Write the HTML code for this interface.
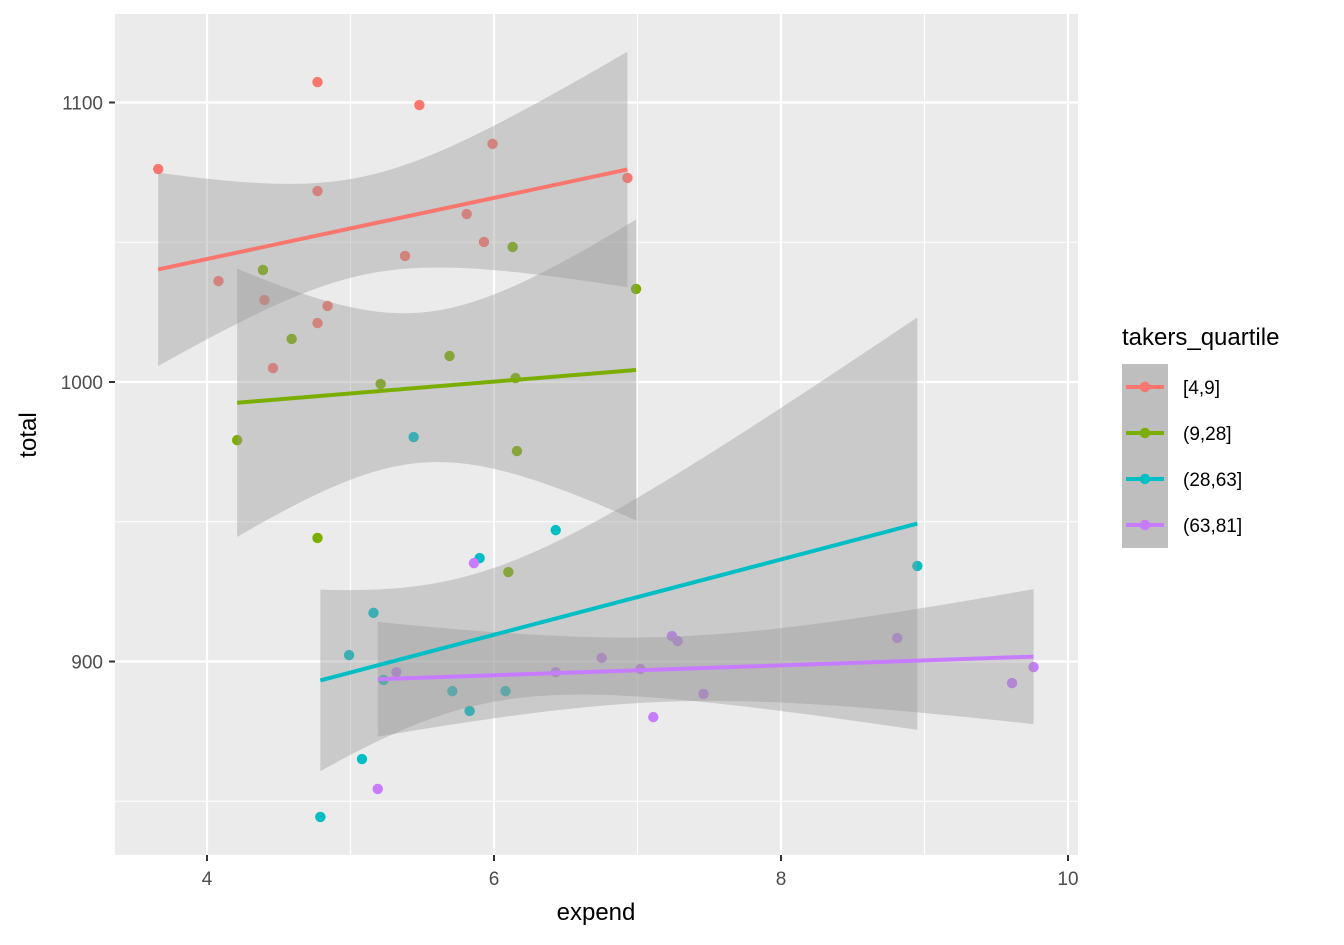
<!DOCTYPE html>
<html><head><meta charset="utf-8"><style>
body{margin:0;background:#fff;font-family:"Liberation Sans",Arial,sans-serif}
</style></head><body>
<svg id="chart" width="1344" height="940" xmlns="http://www.w3.org/2000/svg">
<rect x="0" y="0" width="1344" height="940" fill="#fff"/>
<rect x="115" y="14" width="963" height="841" fill="#EBEBEB"/>
<g id="grid"></g>
<g id="points"></g>
<g id="bands"></g>
<g id="lines"></g>
<g id="axes" font-size="19" fill="#4D4D4D"></g>
<text x="596" y="920" font-size="24" text-anchor="middle" fill="#000">expend</text>
<text x="36" y="435" font-size="24" text-anchor="middle" fill="#000" transform="rotate(-90 36 435)">total</text>
<g id="legend">
<text x="1122" y="345" font-size="24" fill="#000">takers_quartile</text>
</g>
</svg>
<script>
const ns="http://www.w3.org/2000/svg";
const groups=["[4,9]","(9,28]","(28,63]","(63,81]"];
const colors=["#F8766D","#7CAE00","#00BFC4","#C77CFF"];
const tvals=[2.179,2.262,2.228,2.201];
const redX=[3.66,4.77,5.48,5.99,4.77,5.81,5.93,5.38,4.08,4.40,4.84,4.77,4.46,6.93];
const redY=[1076.2,1107.3,1099.1,1085.2,1068.3,1060.1,1050.1,1045.1,1036.1,1029.3,1027.2,1021.1,1005.0,1073.0];
const greenX=[4.39,6.13,6.99,4.59,5.69,5.21,6.15,4.21,6.16,4.77,6.10];
const greenY=[1040.1,1048.3,1033.3,1015.4,1009.3,999.3,1001.4,979.2,975.3,944.2,932.0];
const tealX=[5.44,6.43,5.90,8.95,5.16,4.99,5.23,5.71,6.08,5.83,5.08,4.79];
const tealY=[980.3,947.0,937.0,934.2,917.4,902.3,893.4,889.4,889.4,882.3,865.1,844.4];
const purpleX=[5.86,7.24,7.28,6.75,8.81,5.32,6.43,7.02,7.46,9.61,9.76,7.11,5.19];
const purpleY=[935.2,909.1,907.3,901.3,908.4,896.2,896.2,897.3,888.4,892.3,898.0,880.1,854.4];
const xTicks=[4,6,8,10];
const yTicks=[900,1000,1100];
const xMinor=[5,7,9];
const yMinor=[850,950,1050];
const sx=v=>207+(v-4)*143.5;
const sy=v=>382-(v-1000)*2.795;
const series=[[redX,redY],[greenX,greenY],[tealX,tealY],[purpleX,purpleY]];
function mk(tag,attrs,parent){const e=document.createElementNS(ns,tag);for(const k in attrs)e.setAttribute(k,attrs[k]);document.getElementById(parent).appendChild(e);return e;}
xMinor.forEach(v=>{const l=mk('line',{x1:sx(v),x2:sx(v),y1:14,y2:855,stroke:'#fff','stroke-width':1.1},'grid');

});
yMinor.forEach(v=>{const l=mk('line',{x1:115,x2:1078,y1:sy(v),y2:sy(v),stroke:'#fff','stroke-width':1.1},'grid');

});
xTicks.forEach(v=>{const l=mk('line',{x1:sx(v),x2:sx(v),y1:14,y2:855,stroke:'#fff','stroke-width':2.2},'grid');


mk('line',{x1:sx(v),x2:sx(v),y1:855,y2:861,stroke:'#333','stroke-width':2},'axes');
const t=mk('text',{x:sx(v),y:885,'text-anchor':'middle'},'axes');t.textContent=v;

});
yTicks.forEach(v=>{const l=mk('line',{x1:115,x2:1078,y1:sy(v),y2:sy(v),stroke:'#fff','stroke-width':2.2},'grid');


mk('line',{x1:109,x2:115,y1:sy(v),y2:sy(v),stroke:'#333','stroke-width':2},'axes');
const t=mk('text',{x:103,y:sy(v)+7,'text-anchor':'end'},'axes');t.textContent=v;

});
series.forEach(([X,Y],g)=>{
 const n=X.length,mx=X.reduce((a,b)=>a+b)/n,my=Y.reduce((a,b)=>a+b)/n;
 let sxx=0,sxy=0;X.forEach((x,i)=>{sxx+=(x-mx)**2;sxy+=(x-mx)*(Y[i]-my);});
 const b=sxy/sxx,a=my-b*mx;
 let sse=0;X.forEach((x,i)=>{sse+=(Y[i]-a-b*x)**2;});
 const s=Math.sqrt(sse/(n-2));
 const lo=Math.min(...X),hi=Math.max(...X);
 const up=[],dn=[];
 for(let k=0;k<=80;k++){const x=lo+(hi-lo)*k/80,f=a+b*x,se=s*Math.sqrt(1/n+(x-mx)**2/sxx);
  up.push(sx(x)+','+sy(f+tvals[g]*se));dn.unshift(sx(x)+','+sy(f-tvals[g]*se));}
 const band=mk('polygon',{points:up.concat(dn).join(' '),fill:'#999','fill-opacity':0.4},'bands');
 
 
 const ln=mk('line',{x1:sx(lo),y1:sy(a+b*lo),x2:sx(hi),y2:sy(a+b*hi),stroke:colors[g],'stroke-width':4},'lines');
 
 
 X.forEach((x,i)=>{const c=mk('circle',{cx:sx(x),cy:sy(Y[i]),r:5.2,fill:colors[g]},'points');
  
  });
 const ky=387+g*46;
 const bg=mk('rect',{x:1122,y:ky-23,width:46,height:46,fill:'#BEBEBE'},'legend');
 
 
 mk('line',{x1:1126,x2:1164,y1:ky,y2:ky,stroke:colors[g],'stroke-width':4},'legend');
 mk('circle',{cx:1145,cy:ky,r:5.2,fill:colors[g]},'legend');
 const t=mk('text',{x:1183,y:ky+7,'font-size':19,fill:'#000'},'legend');t.textContent=groups[g];
 
 
});
</script>
</body></html>
